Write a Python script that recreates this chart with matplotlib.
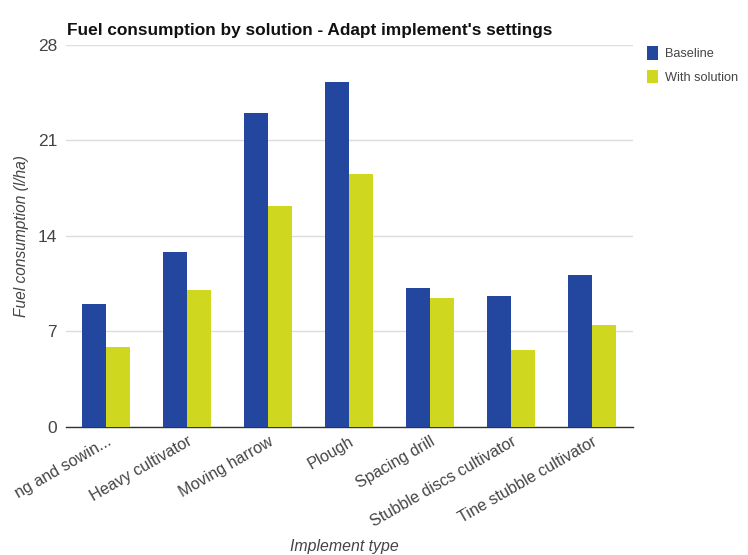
import numpy as np
import matplotlib
matplotlib.use("Agg")
import matplotlib.pyplot as plt

plt.rcParams['font.family'] = ['Liberation Sans', 'DejaVu Sans']

categories = ["ng and sowin...", "Heavy cultivator", "Moving harrow", "Plough",
              "Spacing drill", "Stubble discs cultivator", "Tine stubble cultivator"]
baseline = [9.0, 12.8, 23.0, 25.3, 10.2, 9.6, 11.1]
with_solution = [5.85, 10.05, 16.2, 18.5, 9.45, 5.6, 7.45]
yticks = [0, 7, 14, 21, 28]

blue = "#23479e"
yellow = "#cfd81f"
grey = "#444444"

fig = plt.figure(figsize=(7.48, 5.55), dpi=100)
ax = fig.add_axes([0.0876, 0.2312, 0.758, 0.688])

x = np.arange(len(categories))
w = 0.30
ax.bar(x - w/2, baseline, w, color=blue, label="Baseline", zorder=3)
ax.bar(x + w/2, with_solution, w, color=yellow, label="With solution", zorder=3)

ax.set_xlim(-0.5, len(categories) - 0.5)
ax.set_ylim(0, 28)
ax.set_yticks(yticks)
ax.set_yticklabels([str(t) for t in yticks], fontsize=12.5, color=grey)
ax.yaxis.grid(True, color="#dddddd", linewidth=1, zorder=0)
ax.tick_params(axis='y', length=0, pad=6)
ax.tick_params(axis='x', length=0, pad=5)

ax.set_xticks(x)
ax.set_xticklabels(categories, rotation=30, ha='right', va='top',
                   rotation_mode='anchor', fontsize=11.6, color=grey)

for s in ['top', 'right', 'left']:
    ax.spines[s].set_visible(False)
ax.spines['bottom'].set_color("#333333")
ax.spines['bottom'].set_linewidth(1)

ax.set_ylabel("Fuel consumption (l/ha)", fontsize=11.2, style='italic', color=grey, labelpad=6)
fig.text(0.46, 0.008, "Implement type", fontsize=11.4, style='italic', color=grey, ha='center')

fig.text(0.089, 0.937, "Fuel consumption by solution - Adapt implement's settings",
         fontsize=12.4, fontweight='bold', color="#111111")

ax.legend(loc='upper left', bbox_to_anchor=(1.005, 1.026), frameon=False,
          fontsize=9.2, handlelength=0.9, handleheight=1.2, handletextpad=0.55,
          labelspacing=0.75, labelcolor=grey)

fig.savefig("out.png", dpi=100)
